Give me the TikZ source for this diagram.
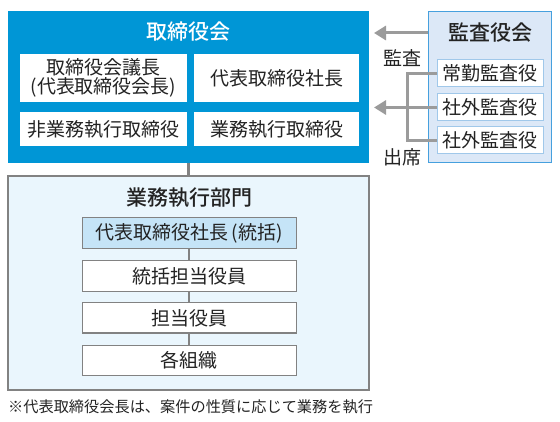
\documentclass[tikz,border=0pt]{standalone}
\usepackage{fontspec}
\setmainfont{Noto Sans CJK JP}
\newfontfamily\medfont{Noto Sans CJK JP Medium}
\usetikzlibrary{arrows.meta}
\definecolor{mainblue}{RGB}{0,150,214}
\definecolor{auditfill}{RGB}{220,232,247}
\definecolor{auditline}{RGB}{70,160,222}
\definecolor{auditinner}{RGB}{160,200,234}
\definecolor{execfill}{RGB}{234,246,253}
\definecolor{headfill}{RGB}{197,228,247}
\definecolor{arrowgray}{RGB}{155,155,155}
\definecolor{boxgray}{RGB}{130,130,130}
\definecolor{txtblack}{RGB}{35,35,35}
\begin{document}
\begin{tikzpicture}[x=1pt,y=-1pt,
  txt/.style={font=\fontsize{19}{20}\selectfont, text=txtblack},
  ttl/.style={font=\medfont\fontsize{21}{22}\selectfont, text=txtblack},
  rect/.style={inner sep=0pt, outer sep=0pt, anchor=center},
  boardbox/.style={rect, fill=mainblue},
  wbox/.style={rect, fill=white, txt, align=center},
  auditbox/.style={rect, fill=auditfill, draw=auditline, line width=1pt},
  abox/.style={rect, fill=white, draw=auditinner, line width=1pt, txt},
  execbox/.style={rect, fill=execfill, draw=boxgray, line width=1.2pt},
  sbox/.style={rect, fill=white, draw=boxgray, line width=1pt, txt},
  garrow/.style={draw=arrowgray, line width=3pt, -{Triangle[length=12pt,width=14pt]}},
  gline/.style={draw=arrowgray, line width=3pt},
  sline/.style={draw=boxgray, line width=2.2pt},
]
\useasboundingbox (0,0) rectangle (560,422);

% Board
\node[boardbox, minimum width=361pt, minimum height=152pt] (board) at (188.5,87) {};
\node[font=\medfont\fontsize{21}{22}\selectfont, text=white] (boardttl) at (188.5,32) {取締役会};
\node[wbox, minimum width=167pt, minimum height=48pt, font=\fontsize{19}{19}\selectfont] (b1) at (103.5,78) {取締役会議長\\(代表取締役会長)};
\node[wbox, minimum width=165pt, minimum height=48pt] (b2) at (276.5,78) {代表取締役社長};
\node[wbox, minimum width=167pt, minimum height=34pt] (b3) at (103.5,129) {非業務執行取締役};
\node[wbox, minimum width=165pt, minimum height=34pt] (b4) at (276.5,129) {業務執行取締役};

% Audit
\node[auditbox, minimum width=123pt, minimum height=151pt] (audit) at (489.5,87.5) {};
\node[ttl] (auditttl) at (490,33) {監査役会};
\node[abox, minimum width=106pt, minimum height=27pt] (a1) at (490,73.5) {常勤監査役};
\node[abox, minimum width=106pt, minimum height=27pt] (a2) at (490,107.5) {社外監査役};
\node[abox, minimum width=106pt, minimum height=27pt] (a3) at (490,140.5) {社外監査役};

\coordinate (arrowtip1) at (374,33);
\coordinate (arrowtip2) at (374,107.5);
\coordinate (jtop) at (407,73.5);
\coordinate (jmid) at (407,107.5);
\coordinate (jbot) at (407,140.5);
\draw[garrow] (audit.west |- arrowtip1) -- (arrowtip1);
\draw[gline] (a1.west) -- (jtop) -- (jbot) -- (a3.west);
\draw[gline] (a2.west) -- (jmid);
\draw[garrow] (jmid) -- (arrowtip2);
\node[txt] (kansa) at (402,58) {監査};
\node[txt] (shusseki) at (402,157) {出席};

% Execution
\node[execbox, minimum width=361pt, minimum height=214pt] (exec) at (188.5,283) {};
\draw[sline] (board.south) -- (exec.north);
\node[ttl] (execttl) at (189,198) {業務執行部門};
\node[sbox, fill=headfill, minimum width=214pt, minimum height=31pt] (s1) at (189,233.5) {代表取締役社長\,(統括)};
\node[sbox, minimum width=214pt, minimum height=31pt] (s2) at (189,276.5) {統括担当役員};
\node[sbox, minimum width=214pt, minimum height=30pt] (s3) at (189,318) {担当役員};
\node[sbox, minimum width=214pt, minimum height=30pt] (s4) at (189,360) {各組織};
\draw[sline] (s1.south) -- (s2.north);
\draw[sline] (s2.south) -- (s3.north);
\draw[sline] (s3.south) -- (s4.north);

\node[anchor=west, inner sep=0pt, font=\fontsize{15.2}{17}\selectfont, text=txtblack] (note) at (8,407) {※代表取締役会長は、案件の性質に応じて業務を執行};
\end{tikzpicture}
\end{document}
